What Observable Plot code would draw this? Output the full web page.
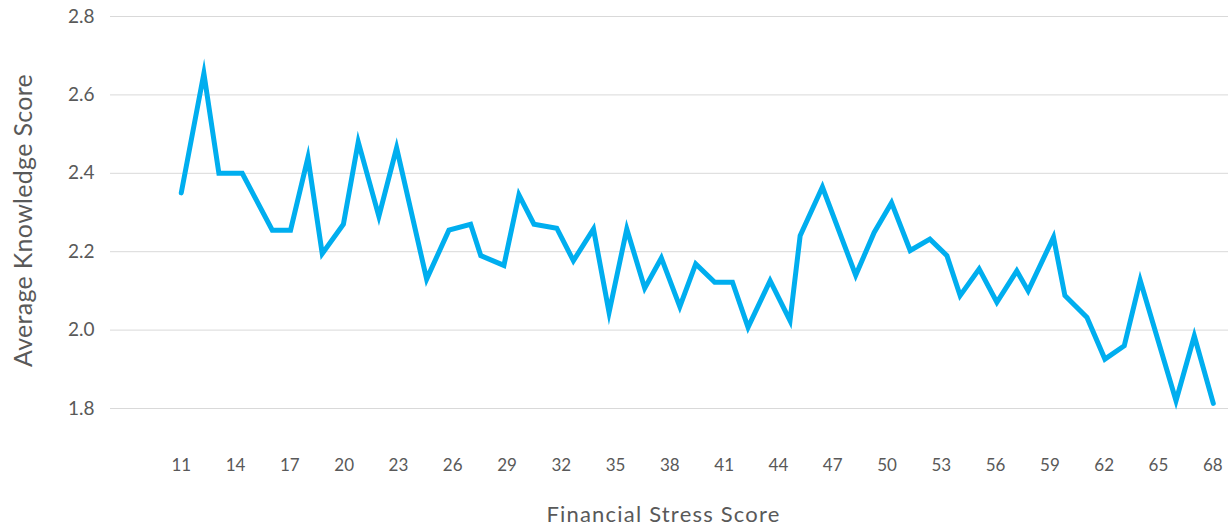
<!DOCTYPE html>
<html>
<head>
<meta charset="utf-8">
<script src="https://cdn.jsdelivr.net/npm/d3@7"></script>
<script src="https://cdn.jsdelivr.net/npm/@observablehq/plot@0.6"></script>
<style>
  html, body { margin: 0; padding: 0; background: #fff; }
  #chart { width: 1228px; height: 527px; }
  svg { font-family: Lato, "Open Sans", sans-serif; }
  .xtitle text { letter-spacing: 1.2px; }
  .ytitle text { letter-spacing: 0.3px; }
</style>
</head>
<body>
<div id="chart"></div>
<script>
// Financial stress score (x) and average knowledge score (y)
const stressScores = [
  11.00, 12.25, 13.08, 14.37, 16.03, 17.04, 18.00, 18.79, 19.96, 20.78,
  21.92, 22.90, 24.56, 25.79, 26.99, 27.55, 28.83, 29.66, 30.49, 31.75,
  32.67, 33.78, 34.64, 35.62, 36.61, 37.53, 38.55, 39.43, 40.48, 41.46,
  42.32, 43.54, 44.64, 45.20, 46.43, 48.27, 49.29, 50.25, 51.28, 52.37,
  53.31, 54.04, 55.09, 56.07, 57.17, 57.80, 59.20, 59.83, 61.05, 62.04,
  63.11, 63.99, 65.97, 66.98, 68.03
];
const knowledgeScores = [
  2.35, 2.655, 2.40, 2.40, 2.255, 2.255, 2.44, 2.195, 2.27, 2.48,
  2.29, 2.465, 2.13, 2.255, 2.27, 2.19, 2.165, 2.345, 2.27, 2.26,
  2.177, 2.258, 2.045, 2.258, 2.107, 2.184, 2.06, 2.169, 2.122, 2.122,
  2.007, 2.126, 2.024, 2.241, 2.365, 2.14, 2.249, 2.325, 2.203, 2.232,
  2.19, 2.088, 2.156, 2.071, 2.151, 2.10, 2.237, 2.088, 2.032, 1.926,
  1.96, 2.127, 1.82, 1.985, 1.813
];
const xTicks = [11, 14, 17, 20, 23, 26, 29, 32, 35, 38, 41, 44, 47, 50, 53, 56, 59, 62, 65, 68];
const yTicks = [1.8, 2.0, 2.2, 2.4, 2.6, 2.8];
const xTitle = "Financial Stress Score";
const yTitle = "Average Knowledge Score";

const data = stressScores.map((x, i) => ({x, y: knowledgeScores[i]}));

const chart = Plot.plot({
  width: 1228,
  height: 527,
  marginLeft: 110,
  marginRight: 0,
  marginTop: 16,
  marginBottom: 119,
  style: {fontFamily: "Lato, 'Open Sans', sans-serif", color: "#595959", background: "#fff"},
  x: {domain: [7.09, 68.87], label: null},
  y: {domain: [1.8, 2.8], label: null},
  marks: [
    Plot.gridY(yTicks, {stroke: "#d9d9d9", strokeOpacity: 1, strokeWidth: 1}),
    Plot.axisY({ticks: yTicks, tickFormat: d3.format(".1f"), tickSize: 0, tickPadding: 16, fontSize: 19, label: null}),
    Plot.axisX({ticks: xTicks, tickFormat: d3.format("d"), tickSize: 0, tickPadding: 50, fontSize: 17, label: null}),
    Plot.lineY(data, {x: "x", y: "y", stroke: "#00aeef", strokeWidth: 5, strokeLinejoin: "miter", strokeMiterlimit: 10}),
    Plot.text([xTitle], {frameAnchor: "bottom", dx: -6, dy: 106, fontSize: 22, lineAnchor: "middle", textAnchor: "middle", fill: "#595959", className: "xtitle"}),
    Plot.text([yTitle], {frameAnchor: "left", rotate: -90, dx: -87, dy: 8, fontSize: 25, lineAnchor: "middle", textAnchor: "middle", fill: "#595959", className: "ytitle"})
  ]
});
document.getElementById("chart").appendChild(chart);
</script>
</body>
</html>
